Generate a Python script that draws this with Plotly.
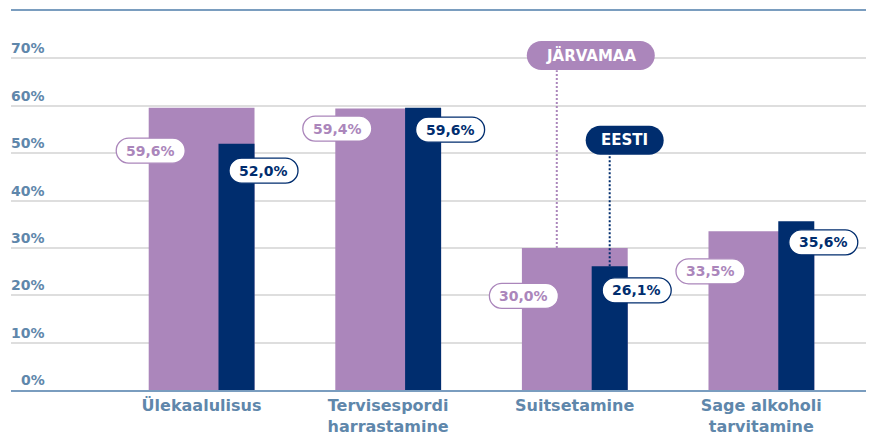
import plotly.graph_objects as go

# ---- data ----
categories = ["Ülekaalulisus", "Tervisespordi<br>harrastamine", "Suitsetamine", "Sage alkoholi<br>tarvitamine"]
jarvamaa = [59.6, 59.4, 30.0, 33.5]
eesti = [52.0, 59.6, 26.1, 35.6]
jarvamaa_labels = ["59,6%", "59,4%", "30,0%", "33,5%"]
eesti_labels = ["52,0%", "59,6%", "26,1%", "35,6%"]
y_ticks = [0, 10, 20, 30, 40, 50, 60, 70]
y_tick_labels = ["0%", "10%", "20%", "30%", "40%", "50%", "60%", "70%"]
series_names = ["JÄRVAMAA", "EESTI"]

# ---- style ----
PURPLE = "#ab86bb"
NAVY = "#002d6e"
AXIS = "#7a9dbf"
TICK = "#5f87ab"
GRID = "#dedede"
FONT = "DejaVu Sans"

x = list(range(len(categories)))
P_OFF, P_W = -0.283, 0.567
D_OFF, D_W = 0.091, 0.193

# pixel drops of value pills below bar tops
p_drop = [43, 20, 48, 40]
d_drop = [27, 22, 24, 21]

fig = go.Figure()
fig.add_bar(x=x, y=jarvamaa, width=P_W, offset=P_OFF, marker_color=PURPLE,
            marker_line_width=0, name=series_names[0], hoverinfo="skip")
fig.add_bar(x=x, y=eesti, width=D_W, offset=D_OFF, marker_color=NAVY,
            marker_line_width=0, name=series_names[1], hoverinfo="skip")


def pill_path(w, h, dx=0.0, dy=0.0):
    r = h / 2.0
    k = 0.5523 * r
    x0, x1 = dx - w / 2.0 + r, dx + w / 2.0 - r
    yt, yb = dy + r, dy - r
    return (f"M {x0},{yt} L {x1},{yt} "
            f"C {x1 + k},{yt} {x1 + r},{dy + k} {x1 + r},{dy} "
            f"C {x1 + r},{dy - k} {x1 + k},{yb} {x1},{yb} "
            f"L {x0},{yb} "
            f"C {x0 - k},{yb} {x0 - r},{dy - k} {x0 - r},{dy} "
            f"C {x0 - r},{dy + k} {x0 - k},{yt} {x0},{yt} Z")


shapes = []
annotations = []

# value pills
for i in x:
    for val, lab, drop, col, xa, xs in [
        (jarvamaa[i], jarvamaa_labels[i], p_drop[i], PURPLE, i + P_OFF, 2),
        (eesti[i], eesti_labels[i], d_drop[i], NAVY, i + D_OFF + D_W, 9),
    ]:
        shapes.append(dict(type="path", xref="x", yref="y", xsizemode="pixel", ysizemode="pixel",
                           xanchor=xa, yanchor=val,
                           path=pill_path(69, 25, xs, -drop),
                           fillcolor="white", line=dict(color=col, width=1.3), layer="above"))
        annotations.append(dict(x=xa, y=val, xref="x", yref="y", text=lab, showarrow=False,
                                xshift=xs, yshift=-drop, xanchor="center", yanchor="middle",
                                font=dict(family=FONT, size=14, color=col, weight="bold")))

# series legend pills with dotted connectors (on Suitsetamine)
k = 2
leg_y = [70.6, 52.7]
leg_w = [128, 78]
leg_dx = [34, 15]
line_x = [k + (P_OFF + D_OFF) / 2, k + D_OFF + D_W / 2]
leg_bottom = [67.5, 49.8]
for j, (name, col, vals) in enumerate([(series_names[0], PURPLE, jarvamaa), (series_names[1], NAVY, eesti)]):
    shapes.append(dict(type="line", xref="x", yref="y", x0=line_x[j], x1=line_x[j],
                       y0=vals[k], y1=leg_bottom[j], line=dict(color=col, width=2, dash="2px,2px"),
                       layer="above"))
    shapes.append(dict(type="path", xref="x", yref="y", xsizemode="pixel", ysizemode="pixel",
                       xanchor=line_x[j], yanchor=leg_y[j],
                       path=pill_path(leg_w[j], 29, leg_dx[j], 0),
                       fillcolor=col, line=dict(color=col, width=0), layer="above"))
    annotations.append(dict(x=line_x[j], y=leg_y[j], xref="x", yref="y", text=name, showarrow=False,
                            xshift=leg_dx[j], xanchor="center", yanchor="middle",
                            font=dict(family=FONT, size=15, color="white", weight="bold")))

# y tick labels placed above gridlines
for v, t in zip(y_ticks, y_tick_labels):
    annotations.append(dict(x=0.0417, y=v, xref="paper", yref="y", text=t, showarrow=False,
                            xanchor="right", yanchor="middle", yshift=10,
                            font=dict(family=FONT, size=14, color=TICK, weight="bold")))

fig.update_layout(
    width=866, height=427,
    margin=dict(l=3, r=0, t=3, b=45),
    paper_bgcolor="white", plot_bgcolor="white",
    barmode="overlay", showlegend=False,
    shapes=shapes, annotations=annotations,
    xaxis=dict(range=[-1.021, 3.604], tickmode="array", tickvals=x, ticktext=categories,
               showgrid=False, zeroline=False, showline=True, mirror=True,
               linecolor=AXIS, linewidth=2, ticks="", ticklen=0,
               tickfont=dict(family=FONT, size=16, color=TICK, weight="bold")),
    yaxis=dict(range=[0, 80], tickvals=y_ticks, showticklabels=False, showgrid=True,
               gridcolor=GRID, gridwidth=1.5, zeroline=False, showline=False, ticks=""),
)

fig.write_html("out.html")
